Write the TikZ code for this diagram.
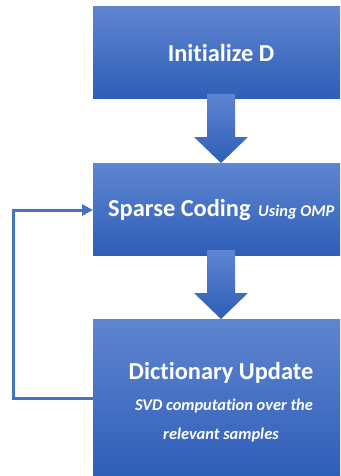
\documentclass[tikz,border=0pt]{standalone}
\usepackage{fontspec}
\setmainfont{Carlito}[Ligatures=NoCommon]
\usetikzlibrary{arrows.meta}
\definecolor{topblue}{RGB}{95,133,208}
\definecolor{botblue}{RGB}{46,94,184}
\definecolor{lineblue}{RGB}{68,114,196}
\tikzset{
  boxstyle/.style={top color=topblue,bottom color=botblue,draw=none},
  arrowfill/.style={top color=topblue,bottom color=botblue,draw=none},
  bigtext/.style={text=white,font=\bfseries\fontsize{24.4}{28}\selectfont,inner sep=0pt},
  smalltext/.style={text=white,font=\bfseries\itshape\fontsize{16.4}{19}\selectfont,inner sep=0pt},
  loopline/.style={draw=lineblue,line width=3pt,-{Triangle[length=11pt,width=11pt]}}
}
\begin{document}
\begin{tikzpicture}[x=1pt,y=-1pt]
\useasboundingbox (0,0) rectangle (340,476);
\begin{scope}
\clip (0,0) rectangle (340,476);
% boxes
\path[boxstyle] (93,7) rectangle (350,99);
\path[boxstyle] (93,163) rectangle (350,255);
\path[boxstyle] (93,319) rectangle (350,480);
% arrows
\path[arrowfill] (207,94) -- (235,94) -- (235,137) -- (248,137) -- (221,163) -- (194,137) -- (207,137) -- cycle;
\path[arrowfill] (207,250) -- (235,250) -- (235,293) -- (248,293) -- (221,319) -- (194,293) -- (207,293) -- cycle;
% texts
\node[bigtext,anchor=base] (t1) at (221,62) {Initialize D};
\node[bigtext,anchor=base west] (t2) at (108,216) {Sparse Coding};
\node[smalltext,anchor=base west] (t2b) at (258,216) {Using OMP};
\node[bigtext,anchor=base] (t3) at (221,379) {Dictionary Update};
\node[smalltext,anchor=base] (t3b) at (224,410) {SVD computation over the};
\node[smalltext,anchor=base] (t3c) at (221,439) {relevant samples};
% loop
\coordinate (l1) at (93,398);
\coordinate (l2) at (13,398);
\coordinate (l3) at (13,210);
\coordinate (l4) at (93,210);
\draw[loopline] (l1) -- (l2) -- (l3) -- (l4);
\end{scope}
\end{tikzpicture}
\end{document}
